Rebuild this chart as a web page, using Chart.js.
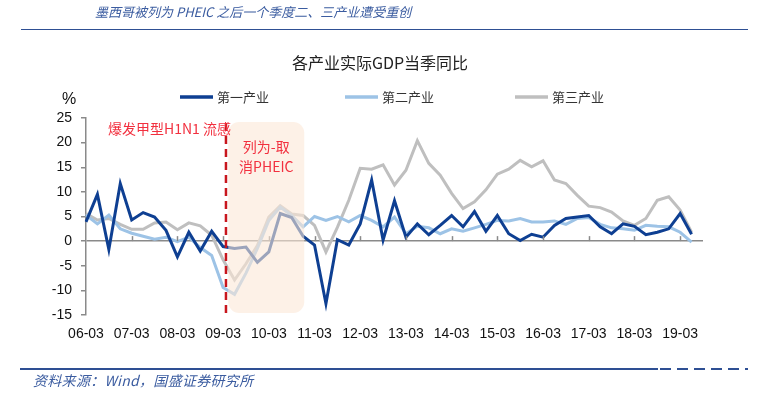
<!DOCTYPE html>
<html>
<head>
<meta charset="utf-8">
<script src="https://cdn.jsdelivr.net/npm/chart.js@4.4.1/dist/chart.umd.min.js"></script>
<style>
  body { margin: 0; background: #fff; }
  #wrap { position: relative; width: 769px; height: 394px; overflow: hidden; }
  #chart { position: absolute; left: 0; top: 0; }
  .note { position: absolute; font-family: "Noto Sans CJK SC", sans-serif; font-style: italic; color: #3b5ca0; white-space: nowrap; line-height: 16px; }
  #head { left: 95px; top: 4px; font-size: 13px; }
  #foot { left: 33px; top: 372px; font-size: 14px; letter-spacing: 0.3px; }
  .rule { position: absolute; background: #2e4f93; }
</style>
</head>
<body>
<div id="wrap">
  <canvas id="chart" width="769" height="394"></canvas>
  <div class="note" id="head">墨西哥被列为 PHEIC 之后一个季度二、三产业遭受重创</div>
  <div class="rule" style="left:21px; top:29px; width:727px; height:1px;"></div>
  <div class="rule" style="left:20px; top:368px; width:638px; height:2px;"></div>
  <div class="rule" style="left:660px; top:368px; width:88px; height:2px; background: repeating-linear-gradient(to right, #2e4f93 0 11px, transparent 11px 17px);"></div>
  <div class="note" id="foot">资料来源：Wind，国盛证券研究所</div>
</div>
<script>
// quarters 2006Q1 .. 2019Q3 (last one has no data yet)
const quarters = [
  '06-03','06-06','06-09','06-12','07-03','07-06','07-09','07-12',
  '08-03','08-06','08-09','08-12','09-03','09-06','09-09','09-12',
  '10-03','10-06','10-09','10-12','11-03','11-06','11-09','11-12',
  '12-03','12-06','12-09','12-12','13-03','13-06','13-09','13-12',
  '14-03','14-06','14-09','14-12','15-03','15-06','15-09','15-12',
  '16-03','16-06','16-09','16-12','17-03','17-06','17-09','17-12',
  '18-03','18-06','18-09','18-12','19-03','19-06','19-09'
];

const primary = [
  3.9, 9.5, -1.7, 11.7, 4.3, 5.8, 4.9, 2.2, -3.2, 1.8, -2.0, 2.0,
  -1.1, -1.5, -1.2, -4.3, -2.2, 5.6, 4.8, 1.0, -0.8, -12.7, 0.3, -0.8,
  3.5, 12.4, 0.2, 8.2, 0.8, 3.5, 1.3, 3.2, 5.2, 2.9, 6.0, 2.0,
  5.2, 1.5, 0.1, 1.4, 0.8, 3.2, 4.6, 4.9, 5.2, 2.9, 1.5, 3.5,
  3.0, 1.3, 1.8, 2.5, 5.6, 1.4
];
const secondary = [
  5.3, 3.5, 5.3, 2.5, 1.6, 1.0, 0.4, 0.8, -0.1, 0.8, -1.3, -2.9,
  -9.4, -10.8, -6.5, -1.5, 4.2, 6.9, 5.2, 2.9, 5.0, 4.2, 5.0, 3.9,
  5.2, 4.2, 2.9, 4.9, 1.5, 3.0, 2.7, 1.5, 2.5, 2.0, 2.7, 3.4,
  4.2, 4.1, 4.6, 3.9, 3.9, 4.1, 3.4, 4.6, 4.8, 3.4, 2.7, 2.5,
  2.2, 3.2, 3.0, 2.9, 1.8, -0.2
];
const tertiary = [
  5.6, 4.3, 4.6, 3.4, 2.4, 2.4, 3.7, 3.9, 2.3, 3.7, 3.1, 1.2,
  -3.8, -7.9, -4.6, -0.9, 4.9, 7.2, 5.5, 5.2, 3.2, -2.2, 2.8, 8.3,
  14.8, 14.6, 15.5, 11.4, 14.4, 20.4, 15.8, 13.4, 9.7, 6.6, 8.0, 10.4,
  13.6, 14.6, 16.4, 15.1, 16.3, 12.4, 11.7, 9.3, 7.1, 6.8, 5.9, 4.1,
  3.2, 4.6, 8.3, 9.0, 6.3, 1.8
];

const seriesNames = ['第一产业', '第二产业', '第三产业'];
const seriesColors = ['#0e3f92', '#9dc3e6', '#bfbfbf'];
const chartTitle = '各产业实际GDP当季同比';

// annotation spots, in data units
const h1n1Index = 12.25;       // outbreak marker
const pheicFrom = 12.45, pheicTo = 19.1;

const axisGray = '#8a8a8a';
const red = '#f2303f';

const extras = {
  id: 'extras',
  afterDatasetsDraw(chart) {
    const { ctx, scales: { x, y }, chartArea } = chart;
    ctx.save();

    // small marks on the zero line, one per year
    ctx.strokeStyle = axisGray;
    ctx.lineWidth = 1.5;
    const y0 = y.getPixelForValue(0);
    for (let i = 4; i < quarters.length; i += 4) {
      const px = Math.round(x.getPixelForValue(i)) + 0.5;
      ctx.beginPath();
      ctx.moveTo(px, y0);
      ctx.lineTo(px, y0 - 5);
      ctx.stroke();
    }

    // shaded PHEIC window, laid over the lines so they show through faded
    const bx0 = x.getPixelForValue(pheicFrom), bx1 = x.getPixelForValue(pheicTo);
    const by0 = y.getPixelForValue(24.2), by1 = y.getPixelForValue(-14.6);
    ctx.fillStyle = 'rgba(252, 232, 215, 0.6)';
    ctx.beginPath();
    ctx.roundRect(bx0, by0, bx1 - bx0, by1 - by0, 11);
    ctx.fill();

    // dashed outbreak line
    const dx = x.getPixelForValue(h1n1Index);
    ctx.strokeStyle = '#c8161d';
    ctx.lineWidth = 2.5;
    ctx.setLineDash([8, 5]);
    ctx.beginPath();
    ctx.moveTo(dx, y.getPixelForValue(24));
    ctx.lineTo(dx, y.getPixelForValue(-14.7));
    ctx.stroke();
    ctx.setLineDash([]);

    ctx.fillStyle = red;
    ctx.font = '14px "Noto Sans CJK SC", sans-serif';
    ctx.textBaseline = 'middle';
    ctx.textAlign = 'right';
    ctx.fillText('爆发甲型H1N1 流感', dx + 5, y.getPixelForValue(22.8));
    ctx.textAlign = 'center';
    const bc = (bx0 + bx1) / 2;
    ctx.fillText('列为-取', bc, y.getPixelForValue(19.2));
    ctx.fillText('消PHEIC', bc, y.getPixelForValue(15.2));

    // chart title
    ctx.fillStyle = '#222';
    ctx.font = '16px "Noto Sans CJK SC", sans-serif';
    ctx.fillText(chartTitle, 380, chartArea.top - 55);

    // unit
    ctx.fillStyle = '#111';
    ctx.font = '16px "Liberation Sans", sans-serif';
    ctx.textAlign = 'left';
    ctx.fillText('%', 62, chartArea.top - 18);

    // legend
    const legendX = [180, 345, 515];
    const ly = chartArea.top - 21;
    ctx.font = '13px "Noto Sans CJK SC", sans-serif';
    chart.data.datasets.forEach((ds, i) => {
      ctx.strokeStyle = ds.borderColor;
      ctx.lineWidth = 3.5;
      ctx.beginPath();
      ctx.moveTo(legendX[i], ly);
      ctx.lineTo(legendX[i] + 33, ly);
      ctx.stroke();
      ctx.fillStyle = '#333';
      ctx.fillText(ds.label, legendX[i] + 37, ly);
    });

    ctx.restore();
  }
};

const makeSet = (i, values) => ({
  label: seriesNames[i],
  data: values,
  borderColor: seriesColors[i],
  backgroundColor: seriesColors[i],
  borderWidth: 3,
  pointRadius: 0,
  tension: 0,
  fill: false
});

new Chart(document.getElementById('chart'), {
  type: 'line',
  data: {
    labels: quarters,
    datasets: [makeSet(0, primary), makeSet(1, secondary), makeSet(2, tertiary)]
  },
  options: {
    responsive: false,
    animation: false,
    layout: { padding: { left: 30, right: 66, top: 118, bottom: 44 } },
    plugins: {
      legend: { display: false },
      tooltip: { enabled: false },
      title: { display: false }
    },
    scales: {
      x: {
        offset: false,
        grid: { display: false, drawTicks: false },
        border: { display: false },
        ticks: {
          autoSkip: false,
          maxRotation: 0,
          padding: 11,
          color: '#111',
          font: { family: '"Liberation Sans", sans-serif', size: 14 },
          callback: function (val, i) { return i % 4 === 0 ? this.getLabelForValue(val) : ''; }
        },
        afterFit: s => { s.height = 35; }
      },
      y: {
        min: -15,
        max: 25,
        ticks: {
          stepSize: 5,
          padding: 9,
          color: '#111',
          font: { family: '"Liberation Sans", sans-serif', size: 14 }
        },
        grid: {
          color: c => c.tick && c.tick.value === 0 ? axisGray : 'rgba(0,0,0,0)',
          lineWidth: 1.5,
          tickColor: axisGray,
          tickLength: 5
        },
        border: { display: true, color: axisGray, width: 1.5 },
        afterFit: s => { s.width = 56; }
      }
    }
  },
  plugins: [extras]
});
</script>
</body>
</html>
